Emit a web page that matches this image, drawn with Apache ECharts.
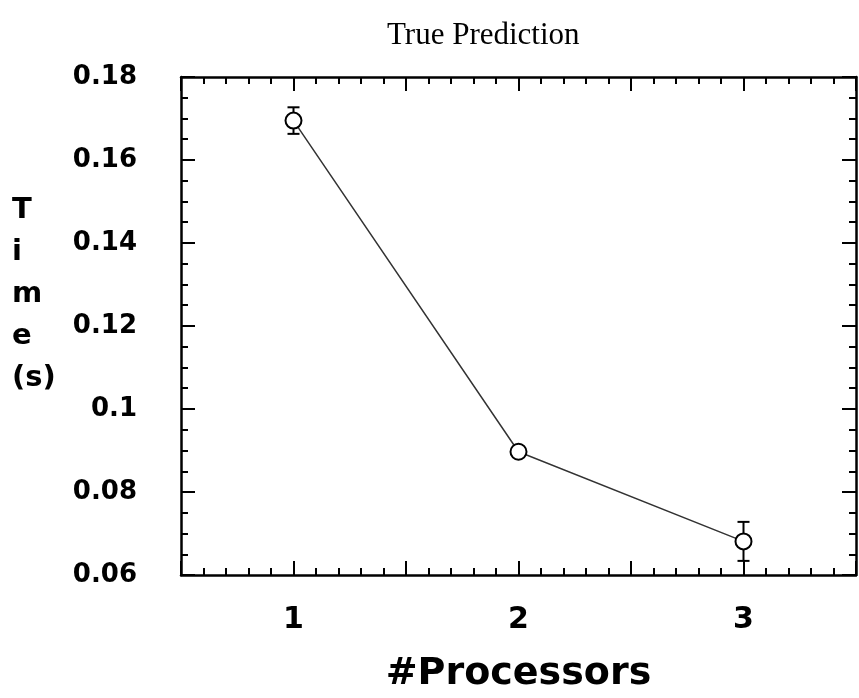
<!DOCTYPE html>
<html>
<head>
<meta charset="utf-8">
<script src="https://cdn.jsdelivr.net/npm/echarts@6/dist/echarts.min.js"></script>
<style>
html,body{margin:0;padding:0;background:#fff;}
#chart{width:859px;height:698px;}
</style>
</head>
<body>
<div id="chart"></div>
<script>
var processors = [1, 2, 3];
var times = [0.1695, 0.0897, 0.0681];
var errors = [0.0032, 0, 0.0047];
var yTicks = [0.06, 0.08, 0.1, 0.12, 0.14, 0.16, 0.18];
var xTickLabels = [1, 2, 3];
var titleText = 'True Prediction';
var xName = '#Processors';
var yNameLines = ['T', 'i', 'm', 'e', '(s)'];

var chart = echarts.init(document.getElementById('chart'), null, {renderer: 'canvas'});

var lineData = processors.map(function (p, i) { return [p, times[i]]; });
var errData = processors.map(function (p, i) { return [p, times[i] - errors[i], times[i] + errors[i]]; });

var labelFont = 'DejaVu Sans';
var axisLineStyle = {color: '#000', width: 2.5};
var tickStyle = {color: '#000', width: 2};

var option = {
  backgroundColor: '#fff',
  animation: false,
  title: {
    text: titleText,
    left: 382,
    top: 15,
    textStyle: {fontFamily: 'Liberation Serif', fontWeight: 'normal', fontSize: 31, color: '#000'}
  },
  graphic: [{
    type: 'text',
    left: 12,
    top: 189,
    style: {
      text: yNameLines.join('\n'),
      font: 'bold 29px "DejaVu Sans"',
      lineHeight: 42,
      fill: '#000',
      textAlign: 'left'
    }
  }],
  grid: {left: 181, top: 77, right: 3, bottom: 115, containLabel: false},
  xAxis: [{
    type: 'value',
    min: 0.5, max: 3.5, interval: 0.5,
    name: xName,
    nameLocation: 'middle',
    nameGap: 80,
    nameTextStyle: {fontFamily: labelFont, fontWeight: 'bold', fontSize: 38, color: '#000'},
    axisLine: {show: true, onZero: false, lineStyle: axisLineStyle},
    axisTick: {show: true, inside: true, length: 14, lineStyle: tickStyle},
    minorTick: {show: true, splitNumber: 5, length: 7, lineStyle: tickStyle},
    splitLine: {show: false},
    axisLabel: {
      margin: 30,
      fontFamily: labelFont, fontWeight: 'bold', fontSize: 30, color: '#000',
      showMinLabel: false, showMaxLabel: false,
      formatter: function (v) { return xTickLabels.indexOf(v) >= 0 ? String(v) : ''; }
    }
  }, {
    type: 'value', position: 'top',
    min: 0.5, max: 3.5, interval: 0.5,
    axisLine: {show: true, onZero: false, lineStyle: axisLineStyle},
    axisTick: {show: true, inside: true, length: 14, lineStyle: tickStyle},
    minorTick: {show: true, splitNumber: 5, length: 7, lineStyle: tickStyle},
    splitLine: {show: false},
    axisLabel: {show: false}
  }],
  yAxis: [{
    type: 'value',
    min: 0.06, max: 0.18, interval: 0.02,
    axisLine: {show: true, onZero: false, lineStyle: axisLineStyle},
    axisTick: {show: true, inside: true, length: 14, lineStyle: tickStyle},
    minorTick: {show: true, splitNumber: 4, length: 7, lineStyle: tickStyle},
    splitLine: {show: false},
    axisLabel: {
      margin: 44,
      fontFamily: labelFont, fontWeight: 'bold', fontSize: 26, color: '#000',
      formatter: function (v) {
        var r = Math.round(v * 100) / 100;
        return yTicks.indexOf(r) >= 0 ? String(r) : '';
      }
    }
  }, {
    type: 'value', position: 'right',
    min: 0.06, max: 0.18, interval: 0.02,
    axisLine: {show: true, onZero: false, lineStyle: axisLineStyle},
    axisTick: {show: true, inside: true, length: 14, lineStyle: tickStyle},
    minorTick: {show: true, splitNumber: 4, length: 7, lineStyle: tickStyle},
    splitLine: {show: false},
    axisLabel: {show: false}
  }],
  series: [{
    type: 'custom',
    xAxisIndex: 0, yAxisIndex: 0,
    z: 1,
    data: errData,
    renderItem: function (params, api) {
      var x = api.value(0);
      var lo = api.coord([x, api.value(1)]);
      var hi = api.coord([x, api.value(2)]);
      var w = 6;
      var st = {stroke: '#000', lineWidth: 2};
      return {
        type: 'group',
        children: [
          {type: 'line', shape: {x1: lo[0], y1: lo[1], x2: hi[0], y2: hi[1]}, style: st},
          {type: 'line', shape: {x1: hi[0] - w, y1: hi[1], x2: hi[0] + w, y2: hi[1]}, style: st},
          {type: 'line', shape: {x1: lo[0] - w, y1: lo[1], x2: lo[0] + w, y2: lo[1]}, style: st}
        ]
      };
    }
  }, {
    type: 'line',
    xAxisIndex: 0, yAxisIndex: 0,
    z: 2,
    data: lineData,
    symbol: 'circle',
    symbolSize: 16,
    lineStyle: {color: '#333', width: 1.5},
    itemStyle: {color: '#fff', borderColor: '#000', borderWidth: 2}
  }]
};
chart.setOption(option);
</script>
</body>
</html>
